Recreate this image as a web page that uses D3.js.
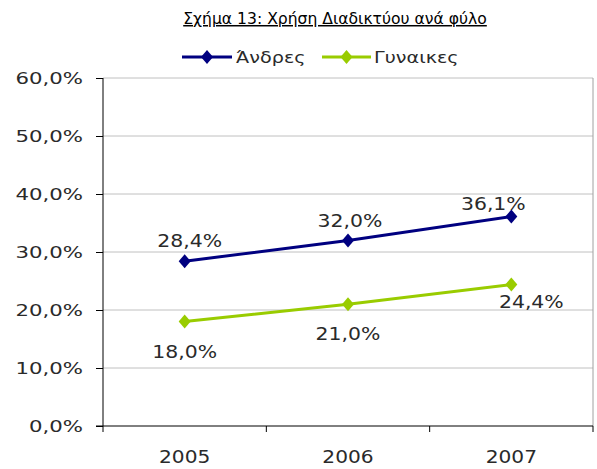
<!DOCTYPE html>
<html>
<head>
<meta charset="utf-8">
<script src="https://cdn.jsdelivr.net/npm/d3@7"></script>
<style>
    body { margin: 0; background: #fff; }
    svg text { font-family: "DejaVu Sans", Verdana, sans-serif; fill: #2a2a2a; }
</style>
</head>
<body>
<div id="chart"></div>
<script>
// Chart data
var titleText = 'Σχήμα 13: Χρήση Διαδικτύου ανά φύλο';
var years = ['2005', '2006', '2007'];
var seriesNames = ['Άνδρες', 'Γυναικες'];
var menValues = [28.4, 32.0, 36.1];
var womenValues = [18.0, 21.0, 24.4];
var yTicks = [0, 10, 20, 30, 40, 50, 60];

var colors = ['#000080', '#99cc00'];

var width = 597, height = 469;
var margin = {top: 78, bottom: 43, left: 103, right: 4};

var svg = d3.select('#chart').append('svg')
    .attr('width', width)
    .attr('height', height);

// Scales setup
var xScale = d3.scaleBand().domain(years).range([margin.left, width - margin.right]);
var yScale = d3.scaleLinear().domain([0, 60]).range([height - margin.bottom, margin.top]);

var fmt = function(v) { return d3.format('.1f')(v).replace('.', ',') + '%'; };

// stretched text helper (the source picture is drawn wide)
function addText(g, x, y, str, size, sx, anchor) {
    return g.append('text')
        .attr('transform', `translate(${x},${y}) scale(${sx},1)`)
        .attr('text-anchor', anchor || 'middle')
        .style('font-size', size + 'px')
        .text(str);
}

// Title
addText(svg, 335, 24, titleText, 15, 1.04)
    .style('text-decoration', 'underline')
    .style('fill', '#000');

// Gridlines
svg.append('g').selectAll('line.grid').data(yTicks.slice(1)).enter().append('line')
    .attr('x1', margin.left).attr('x2', width - margin.right)
    .attr('y1', (d) => yScale(d)).attr('y2', (d) => yScale(d))
    .attr('stroke', '#c0c0c0').attr('stroke-width', 1);

// right border of plot area
svg.append('line')
    .attr('x1', width - margin.right).attr('x2', width - margin.right)
    .attr('y1', yScale(60)).attr('y2', yScale(0))
    .attr('stroke', '#a0a0a0');

// Axis setup
var yAxis = d3.axisLeft(yScale).tickValues(yTicks).tickSize(7).tickFormat('');
var gY = svg.append('g').attr('transform', `translate(${margin.left},0)`).call(yAxis);
gY.select('.domain').attr('stroke', '#000').attr('d', `M0,${yScale(60)}V${yScale(0)}`);
gY.selectAll('.tick line').attr('stroke', '#000');

var xAxis = d3.axisBottom(xScale).tickSize(0).tickFormat('');
var gX = svg.append('g').attr('transform', `translate(0,${yScale(0)})`).call(xAxis);
gX.select('.domain').attr('stroke', '#000').attr('d', `M${margin.left - 7},0H${width - margin.right}`);
var bounds = years.map((d) => xScale(d)).concat([xScale.range()[1]]);
gX.selectAll('line.sep').data(bounds).enter().append('line')
    .attr('x1', (d) => d).attr('x2', (d) => d)
    .attr('y1', 0).attr('y2', 6)
    .attr('stroke', '#000');

// Axis labels
yTicks.forEach(function(t) {
    addText(svg, 83, yScale(t) + 6, fmt(t), 16, 1.33, 'end');
});
years.forEach(function(y) {
    addText(svg, xScale(y) + xScale.bandwidth() / 2, 463, y, 18, 1.12);
});

// Lines
var cx = (i) => xScale(years[i]) + xScale.bandwidth() / 2;
var lineGen = d3.line()
    .x((d, i) => cx(i))
    .y((d) => yScale(d));

var diamond = 'M0,-7L6,0L0,7L-6,0Z';

var seriesData = [menValues, womenValues];
// label placement: above for men, below for women, last points nudged
var labelShift = [
    [[5, -14], [2, -13], [-18, -7]],
    [[0, 36], [0, 36], [20, 24]]
];

seriesData.forEach(function(vals, s) {
    svg.append('path')
        .datum(vals)
        .attr('d', lineGen)
        .attr('fill', 'none')
        .attr('stroke', colors[s])
        .attr('stroke-width', 3);

    svg.selectAll('path.m' + s).data(vals).enter().append('path')
        .attr('class', 'm' + s)
        .attr('d', diamond)
        .attr('transform', (d, i) => `translate(${cx(i)},${yScale(d)})`)
        .attr('fill', colors[s]);

    vals.forEach(function(v, i) {
        addText(svg, cx(i) + labelShift[s][i][0], yScale(v) + labelShift[s][i][1], fmt(v), 17, 1.2);
    });
});

// Legend
var legendItems = [
    {x1: 182, x2: 232, tx: 236},
    {x1: 322, x2: 371, tx: 374}
];
var legend = svg.append('g').attr('transform', 'translate(0,57)');
legendItems.forEach(function(it, s) {
    legend.append('line')
        .attr('x1', it.x1).attr('x2', it.x2)
        .attr('stroke', colors[s]).attr('stroke-width', 3);
    legend.append('path')
        .attr('d', diamond)
        .attr('transform', `translate(${(it.x1 + it.x2) / 2},0)`)
        .attr('fill', colors[s]);
    addText(legend, it.tx, 6, seriesNames[s], 16, 1.2, 'start');
});
</script>
</body>
</html>
